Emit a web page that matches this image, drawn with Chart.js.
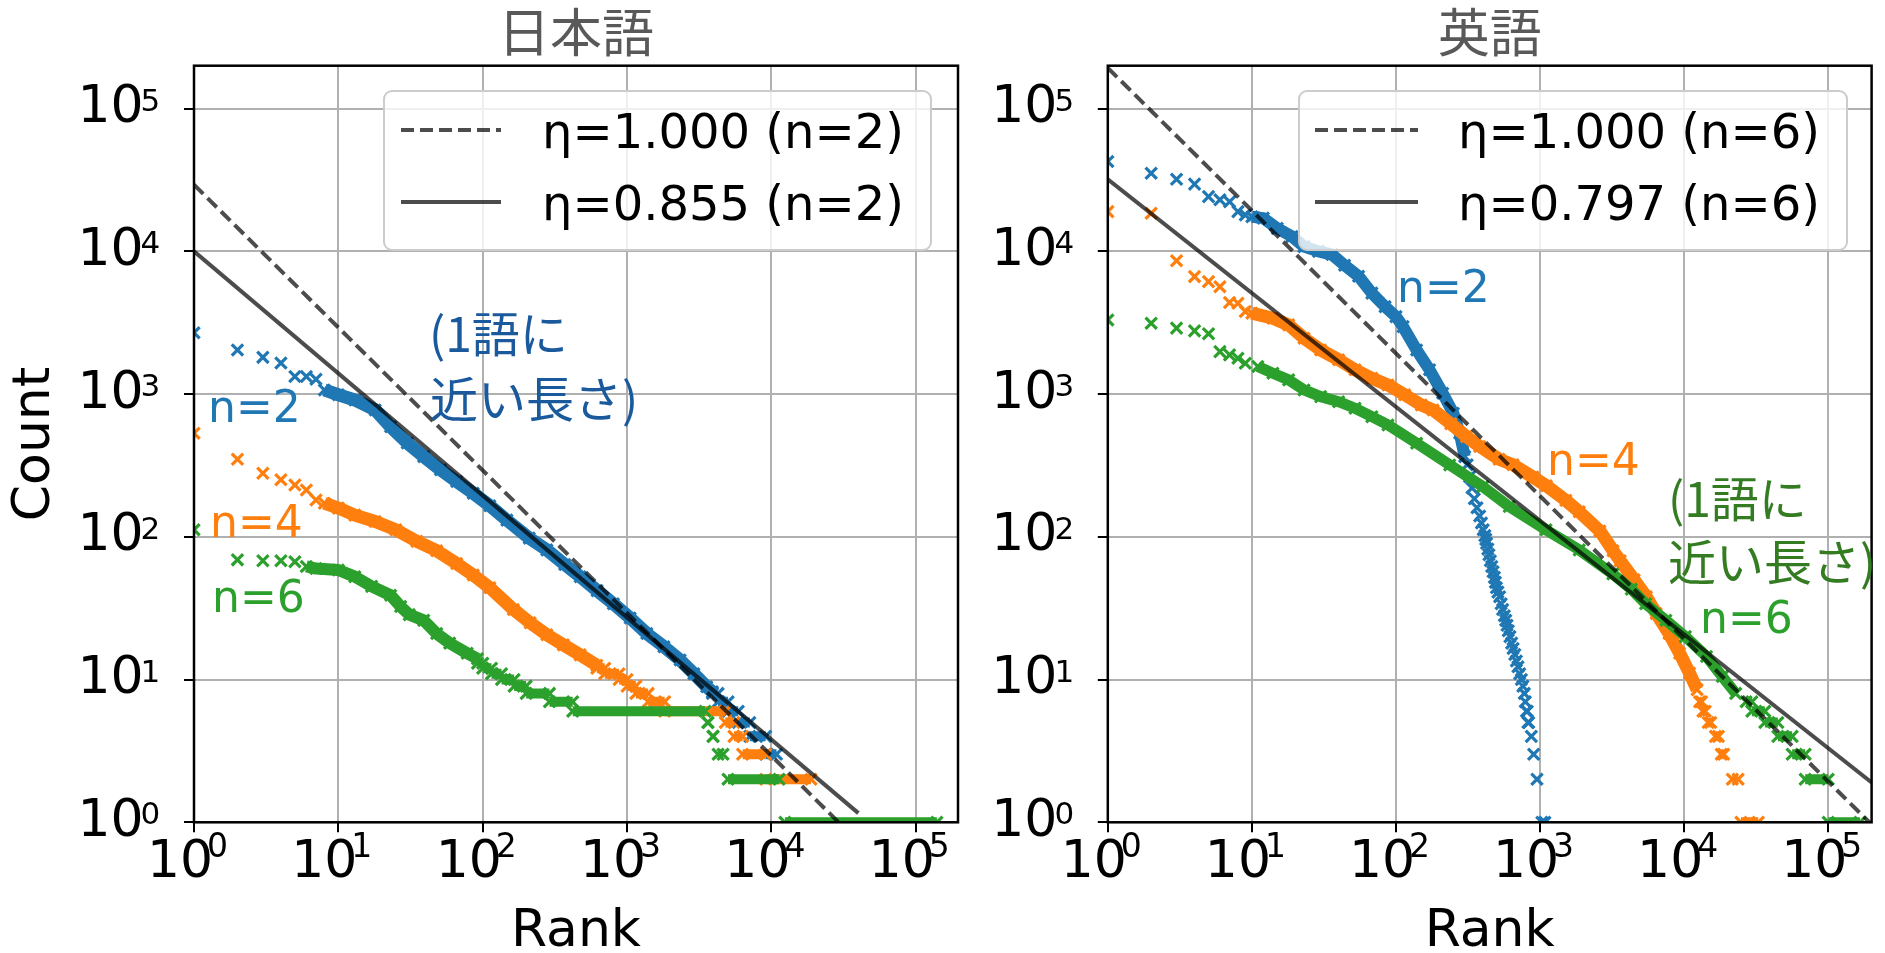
<!DOCTYPE html>
<html>
<head>
<meta charset="utf-8">
<script src="https://cdn.jsdelivr.net/npm/chart.js@4.4.1/dist/chart.umd.min.js"></script>
<style>
  html, body { margin: 0; padding: 0; background: #fff; }
  #wrap { position: relative; width: 1885px; height: 953px; overflow: hidden; }
  .panel { position: absolute; top: 0; height: 953px; }
  #left { left: 0; width: 975px; }
  #right { left: 975px; width: 910px; }
</style>
</head>
<body>
<div id="wrap">
  <div class="panel" id="left"><canvas id="ja"></canvas></div>
  <div class="panel" id="right"><canvas id="en"></canvas></div>
</div>
<script>
// Axis ticks (both panels, both axes): label = base + superscript exponent
const tickValues = [1, 10, 100, 1000, 10000, 100000];
const tickBase = ['10', '10', '10', '10', '10', '10'];
const tickExponents = ['0', '1', '2', '3', '4', '5'];

const C2 = '#1f77b4';
const C4 = '#ff7f0e';
const C6 = '#2ca02c';
const FIT = 'rgba(0,0,0,0.7)';

// ---- 日本語 ----
const jaN2Rank = [1, 2, 3, 4, 5, 6, 7];
const jaN2Count = [2690, 2040, 1810, 1650, 1330, 1330, 1270];
const jaN2BandRank = [8, 10, 13, 18, 23, 30, 39, 51, 66, 86, 112, 147, 210, 278, 370, 473, 620, 804, 1050, 1370, 1800, 2330, 2900, 3560, 3900];
const jaN2BandCount = [1070, 990, 910, 775, 590, 455, 365, 295, 244, 202, 165, 131, 98, 81, 64, 52.6, 42, 34, 27, 21, 17, 13.7, 11, 8.9, 8.2];
// [count, first rank, last rank]
const jaN2Steps = [[8, 3900, 4270], [7, 4270, 5010], [6, 5010, 5890], [5, 5890, 7080], [4, 7080, 9120], [3, 9120, 10840]];

const jaN4Rank = [1, 2, 3, 4, 5, 6, 7];
const jaN4Count = [532, 350, 279, 251, 231, 213, 181];
const jaN4BandRank = [8, 10, 13, 18, 25, 35, 48, 66, 86, 112, 163, 213, 278, 362, 473, 617];
const jaN4BandCount = [172, 159, 142, 128, 112, 93, 80, 65, 54, 44, 31, 25, 20.6, 17.5, 14.9, 12.6];
const jaN4Steps = [[12, 617, 700], [11, 700, 880], [10, 880, 1000], [9, 1000, 1150], [8, 1150, 1400], [7, 1400, 1820], [6, 1820, 4790], [5, 4790, 5500], [4, 5500, 6310], [3, 6310, 9120], [2, 9120, 18800]];

const jaN6Rank = [1, 2, 3, 4, 5];
const jaN6Count = [112, 69, 68, 68, 67];
const jaN6BandRank = [6, 7, 10, 13, 17, 23, 27, 31, 39, 48, 59, 78, 92];
const jaN6BandCount = [62, 60, 58.6, 52.6, 45, 39, 32.5, 28.5, 26, 21, 18, 15.3, 14];
const jaN6Steps = [[13, 92, 100], [12, 100, 115], [11, 115, 135], [10, 135, 165], [9, 165, 200], [8, 200, 290], [7, 290, 420], [6, 420, 3470], [5, 3630, 3630], [4, 3940, 3940], [3, 4270, 4620], [2, 5000, 11300], [1, 12400, 140000]];

const jaFitRank = [1, 40000];
const jaZipfCount = [29300, 0.73];
const jaFitCount = [10000, 1.16];
const jaLegend = ['η=1.000 (n=2)', 'η=0.855 (n=2)'];

// ---- 英語 ----
const enN2Rank = [1, 2, 3, 4, 5, 6, 7, 8, 9];
const enN2Count = [42600, 35300, 32000, 29600, 24200, 23000, 22300, 19000, 18000];
const enN2BandRank = [10, 12, 15, 19, 23, 29, 36, 44, 55, 68, 84, 100, 112, 139, 171, 211, 250, 277, 300];
const enN2BandCount = [17500, 17100, 14500, 12700, 10800, 10000, 9500, 8000, 6700, 5100, 4100, 3490, 2970, 2040, 1480, 1015, 735, 532, 365];
const enN2DropRank = [312, 324, 337, 350, 365, 381, 392, 403, 414, 420, 426, 434, 442, 452, 462, 472, 482, 490, 498, 510, 524, 537, 550, 565, 578, 590, 602, 618, 635, 650, 668, 685, 703, 722, 742, 760, 778, 790, 805, 815, 824, 835, 870, 903, 952, 1030, 1080];
const enN2DropCount = [320, 264, 220, 185, 160, 140, 125, 112, 102, 96, 90, 82, 75, 68, 62, 57, 52, 48, 44, 41, 38, 34, 31, 28, 26, 24, 22, 20, 18, 16.5, 15, 13.5, 12.3, 11, 10, 9, 8, 7, 6, 6, 5, 5, 4, 3, 2, 1, 1];

const enN4Rank = [1, 2, 3, 4, 5, 6, 7, 8, 9];
const enN4Count = [19000, 18500, 8600, 6660, 6140, 5660, 4380, 4330, 3790];
const enN4BandRank = [10, 14, 18, 23, 30, 40, 52, 68, 88, 115, 150, 181, 240, 308, 381, 520, 649, 893, 1106, 1510, 1870, 2600, 3210, 3600, 4500, 5470, 6400, 7850, 9300, 10900, 12300];
const enN4BandCount = [3690, 3400, 3055, 2465, 2040, 1740, 1480, 1290, 1160, 990, 840, 775, 620, 504, 430, 350, 320, 262, 228, 180, 150, 110, 80, 68, 50, 38, 29, 21, 15.3, 11.1, 8.5];
const enN4Steps = [[7, 12800, 13200], [6, 13500, 14000], [5, 14700, 15300], [4, 16500, 17300], [3, 18100, 18800], [2, 21600, 23700], [1, 24800, 32700]];

const enN6Rank = [1, 2, 3, 4, 5, 6, 7, 8, 9];
const enN6Count = [3310, 3140, 2900, 2775, 2645, 1985, 1883, 1786, 1645];
const enN6BandRank = [11, 14, 18, 23, 30, 40, 52, 68, 88, 139, 236, 401, 611, 1100, 1870, 3200, 4300, 5400, 7470, 10200, 14300, 18400, 22800];
const enN6BandCount = [1560, 1400, 1258, 1070, 960, 885, 796, 695, 608, 453, 319, 225, 163, 112, 81, 55, 43, 34, 26, 20, 14.5, 10.5, 8];
const enN6Steps = [[7, 26900, 29500], [6, 29500, 36300], [5, 36300, 44700], [4, 44700, 56200], [3, 56200, 69200], [2, 69200, 100000], [1, 100000, 166000]];

const enFitRank = [1, 200000];
const enZipfCount = [193000, 0.965];
const enFitCount = [32000, 1.9];
const enLegend = ['η=1.000 (n=6)', 'η=0.797 (n=6)'];

// ---- dataset builders ----
function markers(ranks, counts, color) {
  return {
    data: ranks.map((r, i) => ({ x: r, y: counts[i] })),
    showLine: false,
    pointStyle: 'crossRot',
    pointRadius: 8,
    pointBorderWidth: 3.2,
    pointBorderColor: color,
    pointBackgroundColor: color,
    borderColor: color,
    clip: 0,
  };
}

function band(ranks, counts, color, width) {
  return Object.assign(markers(ranks, counts, color), {
    showLine: true, borderWidth: width, spanGaps: false,
    borderJoinStyle: 'round', borderCapStyle: 'butt',
  });
}

// each plateau is its own short segment, broken by a null count
function steps(list, color) {
  const ranks = [], counts = [];
  list.forEach(([c, a, b]) => { ranks.push(a, b, b); counts.push(c, c, null); });
  return band(ranks, counts, color, 10);
}

function fitLine(ranks, counts, label, dash) {
  return {
    label,
    data: ranks.map((r, i) => ({ x: r, y: counts[i] })),
    showLine: true, borderColor: FIT, borderWidth: 4, borderDash: dash,
    pointRadius: 0, clip: 0,
  };
}

// ---- plugins ----
const Y_PAD = 40.4;   // gap between tick mark and the "10" of y labels

const frameAndLegend = {
  id: 'frameAndLegend',
  afterDatasetsDraw(chart, args, opts) {
    const { ctx, chartArea: a } = chart;
    ctx.save();
    ctx.strokeStyle = '#000';
    ctx.lineWidth = 2.5;
    ctx.strokeRect(a.left, a.top, a.right - a.left, a.bottom - a.top);

    const [bx, by, bw, bh] = opts.box;
    ctx.beginPath();
    ctx.roundRect(bx, by, bw, bh, 8);
    ctx.fillStyle = 'rgba(255,255,255,0.8)';
    ctx.fill();
    ctx.strokeStyle = '#cccccc';
    ctx.lineWidth = 2;
    ctx.stroke();

    ctx.font = '48px "DejaVu Sans"';
    ctx.textBaseline = 'alphabetic';
    [0, 1].forEach(k => {
      const ds = chart.data.datasets[k];
      const y = opts.rows[k];
      ctx.beginPath();
      ctx.setLineDash(ds.borderDash || []);
      ctx.strokeStyle = FIT;
      ctx.lineWidth = 4;
      ctx.moveTo(opts.sample[0], y);
      ctx.lineTo(opts.sample[1], y);
      ctx.stroke();
      ctx.setLineDash([]);
      ctx.fillStyle = '#000';
      ctx.fillText(ds.label, opts.textX, y + 17.5);
    });

    opts.notes.forEach(n => {
      ctx.font = n.font;
      ctx.fillStyle = n.color;
      ctx.fillText(n.text, n.x, n.y);
    });
    ctx.restore();
  },
  // superscript exponents of the tick labels, placed from the scales
  afterDraw(chart) {
    const { ctx, scales: { x, y } } = chart;
    ctx.save();
    ctx.fillStyle = '#000';
    ctx.textAlign = 'left';
    ctx.textBaseline = 'alphabetic';
    ctx.font = '31px "DejaVu Sans"';
    tickValues.forEach((v, i) => {
      ctx.fillText(tickExponents[i], y.right - 10 - Y_PAD - 3, y.getPixelForValue(v) + 2);
    });
    ctx.font = '33px "DejaVu Sans"';
    tickValues.forEach((v, i) => {
      ctx.fillText(tickExponents[i], x.getPixelForValue(v) + 13, x.top + 35);
    });
    ctx.restore();
  }
};

const gridOpts = { color: '#b0b0b0', lineWidth: 2, tickColor: '#000', tickWidth: 2, tickLength: 10, drawTicks: true };
const fixTicks = s => { s.ticks = tickValues.map(v => ({ value: v })); };
const tickText = v => tickBase[tickValues.indexOf(v)];

Chart.defaults.font.family = '"DejaVu Sans"';
Chart.defaults.color = '#000';

function buildChart(id, o) {
  return new Chart(document.getElementById(id), {
    type: 'scatter',
    data: { datasets: o.datasets },
    options: {
      responsive: true, maintainAspectRatio: false, animation: false, devicePixelRatio: 1,
      events: [],
      layout: { padding: { left: 0, top: 0, right: o.padRight, bottom: 0 } },
      plugins: {
        legend: { display: false },
        tooltip: { enabled: false },
        title: {
          display: true, text: o.title, color: '#595959', fullSize: false,
          font: { family: '"Noto Sans CJK JP"', size: 52, weight: 'normal', lineHeight: 1.1 },
          padding: { top: 4, bottom: 4.5 },
        },
        frameAndLegend: o.legend,
      },
      scales: {
        x: {
          type: 'logarithmic', position: 'bottom', min: 1, max: o.xMax,
          afterBuildTicks: fixTicks,
          afterFit: s => { s.height = 130.7; s.paddingLeft = 0; s.paddingRight = 0; },
          ticks: { callback: tickText, font: { size: 52 }, color: '#000', padding: 0, labelOffset: -14, maxRotation: 0, autoSkip: false },
          grid: gridOpts,
          border: { display: false },
          title: { display: true, text: 'Rank', color: '#000', font: { size: 52, lineHeight: 0.8 }, padding: { top: 3, bottom: 0 } },
        },
        y: {
          type: 'logarithmic', position: 'left', min: 1, max: 200000,
          afterBuildTicks: fixTicks,
          afterFit: s => { s.width = o.yWidth; s.paddingTop = 0; s.paddingBottom = 0; },
          ticks: { callback: tickText, font: { size: 52 }, color: '#000', padding: Y_PAD, autoSkip: false },
          grid: gridOpts,
          border: { display: false },
          title: { display: o.yTitle, text: 'Count', color: '#000', font: { size: 52, lineHeight: 1.2 }, padding: { top: 4, bottom: 0 } },
        },
      },
    },
    plugins: [frameAndLegend],
  });
}

const noteCjk = '48px "Noto Sans CJK JP"';
const noteN = '44px "DejaVu Sans"';

buildChart('ja', {
  title: '日本語', xMax: 196000, padRight: 17, yWidth: 194, yTitle: true,
  datasets: [
    fitLine(jaFitRank, jaZipfCount, jaLegend[0], [13, 6]),
    fitLine(jaFitRank, jaFitCount, jaLegend[1], []),
    markers(jaN6Rank, jaN6Count, C6),
    band(jaN6BandRank, jaN6BandCount, C6, 12),
    steps(jaN6Steps, C6),
    markers(jaN4Rank, jaN4Count, C4),
    band(jaN4BandRank, jaN4BandCount, C4, 13),
    steps(jaN4Steps, C4),
    markers(jaN2Rank, jaN2Count, C2),
    band(jaN2BandRank, jaN2BandCount, C2, 13),
    steps(jaN2Steps, C2),
  ],
  legend: {
    box: [384, 91, 547, 159], rows: [130, 202], sample: [401, 501], textX: 542,
    notes: [
      { text: 'n=2', x: 208, y: 422, color: C2, font: noteN },
      { text: 'n=4', x: 210, y: 537, color: C4, font: noteN },
      { text: 'n=6', x: 212, y: 612, color: C6, font: noteN },
      { text: '(1語に', x: 429, y: 352, color: '#1a5a9c', font: noteCjk },
      { text: '近い長さ)', x: 430, y: 417, color: '#1a5a9c', font: noteCjk },
    ],
  },
});

buildChart('en', {
  title: '英語', xMax: 200000, padRight: 13.4, yWidth: 132.8, yTitle: false,
  datasets: [
    fitLine(enFitRank, enZipfCount, enLegend[0], [13, 6]),
    fitLine(enFitRank, enFitCount, enLegend[1], []),
    markers(enN6Rank, enN6Count, C6),
    band(enN6BandRank, enN6BandCount, C6, 11),
    steps(enN6Steps, C6),
    markers(enN4Rank, enN4Count, C4),
    band(enN4BandRank, enN4BandCount, C4, 13),
    steps(enN4Steps, C4),
    markers(enN2Rank, enN2Count, C2),
    band(enN2BandRank, enN2BandCount, C2, 12),
    markers(enN2DropRank, enN2DropCount, C2),
  ],
  legend: {
    box: [324, 91, 548, 159], rows: [130, 202], sample: [340, 443], textX: 483,
    notes: [
      { text: 'n=2', x: 422, y: 302, color: C2, font: noteN },
      { text: 'n=4', x: 572, y: 475, color: C4, font: noteN },
      { text: 'n=6', x: 725, y: 633, color: C6, font: noteN },
      { text: '(1語に', x: 693, y: 517, color: '#347c22', font: noteCjk },
      { text: '近い長さ)', x: 693, y: 580, color: '#347c22', font: noteCjk },
    ],
  },
});
</script>
</body>
</html>
